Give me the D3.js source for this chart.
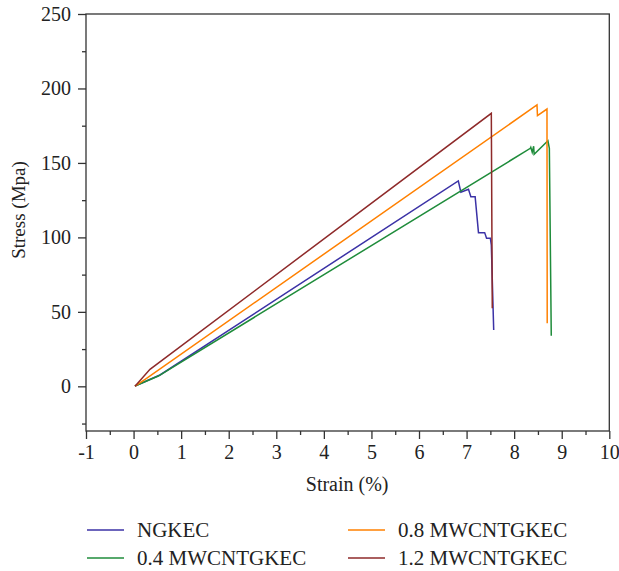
<!DOCTYPE html>
<html>
<head>
<meta charset="utf-8">
<script src="https://cdn.jsdelivr.net/npm/d3@7"></script>
<style>
  html, body { margin: 0; padding: 0; background: #fff; }
  svg { display: block; }
  text { font-family: "Liberation Serif", "DejaVu Serif", serif; fill: #222; }
</style>
</head>
<body>
<svg id="chart" width="619" height="571"></svg>
<script>
// Tensile stress–strain curves of the composites
const seriesNames = ["NGKEC", "0.4 MWCNTGKEC", "0.8 MWCNTGKEC", "1.2 MWCNTGKEC"];
const seriesColors = ["#3b32a6", "#1f8c3b", "#ff8000", "#8e2a2a"];

const strainNG = [0.03, 0.555, 6.826, 6.88, 7.04, 7.09, 7.18, 7.25, 7.38, 7.42, 7.50, 7.52, 7.57];
const stressNG = [0.2, 7.6, 137.9, 130.3, 132.3, 127.3, 127.3, 103.2, 103.2, 99.4, 99.4, 94.9, 37.8];

const strain04 = [0.03, 0.52, 8.34, 8.35, 8.38, 8.41, 8.42, 8.71, 8.74, 8.78];
const stress04 = [0.2, 6.9, 159.8, 160.5, 157.2, 161.2, 155.8, 164.9, 159.8, 34.0];

const strain08 = [0.03, 0.25, 8.48, 8.49, 8.69, 8.695];
const stress08 = [0.2, 4.9, 188.9, 181.7, 186.2, 42.3];

const strain12 = [0.03, 0.345, 7.52, 7.54];
const stress12 = [0.0, 11.4, 183.3, 52.4];

const xTicks = [-1, 0, 1, 2, 3, 4, 5, 6, 7, 8, 9, 10];
const yTicks = [0, 50, 100, 150, 200, 250];

const series = [
  { name: seriesNames[0], color: seriesColors[0], x: strainNG, y: stressNG },
  { name: seriesNames[1], color: seriesColors[1], x: strain04, y: stress04 },
  { name: seriesNames[2], color: seriesColors[2], x: strain08, y: stress08 },
  { name: seriesNames[3], color: seriesColors[3], x: strain12, y: stress12 }
];

const svg = d3.select("#chart");
const plot = { left: 86, right: 609.3, top: 14, bottom: 431 };

const x = d3.scaleLinear().domain([-1, 10]).range([plot.left, plot.right]);
const y = d3.scaleLinear().domain([-30, 250]).range([plot.bottom, plot.top]);

const axisColor = "#333";
// plain hyphen for negative tick values
const tickFmt = d => String(d);

// Curves
const line = d3.line().x(d => x(d[0])).y(d => y(d[1]));
svg.append("g")
  .selectAll("path")
  .data(series)
  .join("path")
  .attr("d", s => line(s.x.map((v, i) => [v, s.y[i]])))
  .attr("fill", "none")
  .attr("stroke", s => s.color)
  .attr("stroke-width", 1.5)
  .attr("stroke-linejoin", "miter");

// Frame
svg.append("rect")
  .attr("x", plot.left).attr("y", plot.top)
  .attr("width", plot.right - plot.left).attr("height", plot.bottom - plot.top)
  .attr("fill", "none").attr("stroke", axisColor).attr("stroke-width", 1.3);

// Minor ticks
const xMinor = d3.range(-0.5, 10, 1);
const yMinor = d3.range(-25, 250, 50);

const xAxisG = svg.append("g").attr("transform", `translate(0,${plot.bottom})`);
xAxisG.call(d3.axisBottom(x).tickValues(xMinor).tickSize(4).tickFormat(""));
xAxisG.append("g").call(d3.axisBottom(x).tickValues(xTicks).tickSize(8).tickPadding(6).tickFormat(tickFmt));

const yAxisG = svg.append("g").attr("transform", `translate(${plot.left},0)`);
yAxisG.call(d3.axisLeft(y).tickValues(yMinor).tickSize(4).tickFormat(""));
yAxisG.append("g").call(d3.axisLeft(y).tickValues(yTicks).tickSize(8).tickPadding(7).tickFormat(tickFmt));

svg.selectAll(".domain").remove();
svg.selectAll(".tick line").attr("stroke", axisColor).attr("stroke-width", 1.3);
svg.selectAll(".tick text")
  .attr("fill", "#222")
  .style("font-family", '"Liberation Serif", "DejaVu Serif", serif')
  .style("font-size", "20px");

// Axis titles
svg.append("text")
  .attr("x", (plot.left + plot.right) / 2 - 0.5)
  .attr("y", 491)
  .attr("text-anchor", "middle")
  .style("font-size", "20px")
  .text("Strain (%)");

svg.append("text")
  .attr("transform", "translate(25,210) rotate(-90)")
  .attr("text-anchor", "middle")
  .style("font-size", "19px")
  .text("Stress (Mpa)");

// Legend, two columns
const legendPos = [
  { lx: 87, ty: 536.5 },
  { lx: 87, ty: 564.5 },
  { lx: 348, ty: 536.5 },
  { lx: 348, ty: 564.5 }
];
const legend = svg.append("g");
series.forEach((s, i) => {
  const p = legendPos[i];
  legend.append("line")
    .attr("x1", p.lx).attr("x2", p.lx + 37)
    .attr("y1", p.ty - 6.5).attr("y2", p.ty - 6.5)
    .attr("stroke", s.color).attr("stroke-width", 1.5);
  legend.append("text")
    .attr("x", p.lx + 50).attr("y", p.ty)
    .style("font-size", "21px")
    .text(s.name);
});
</script>
</body>
</html>
